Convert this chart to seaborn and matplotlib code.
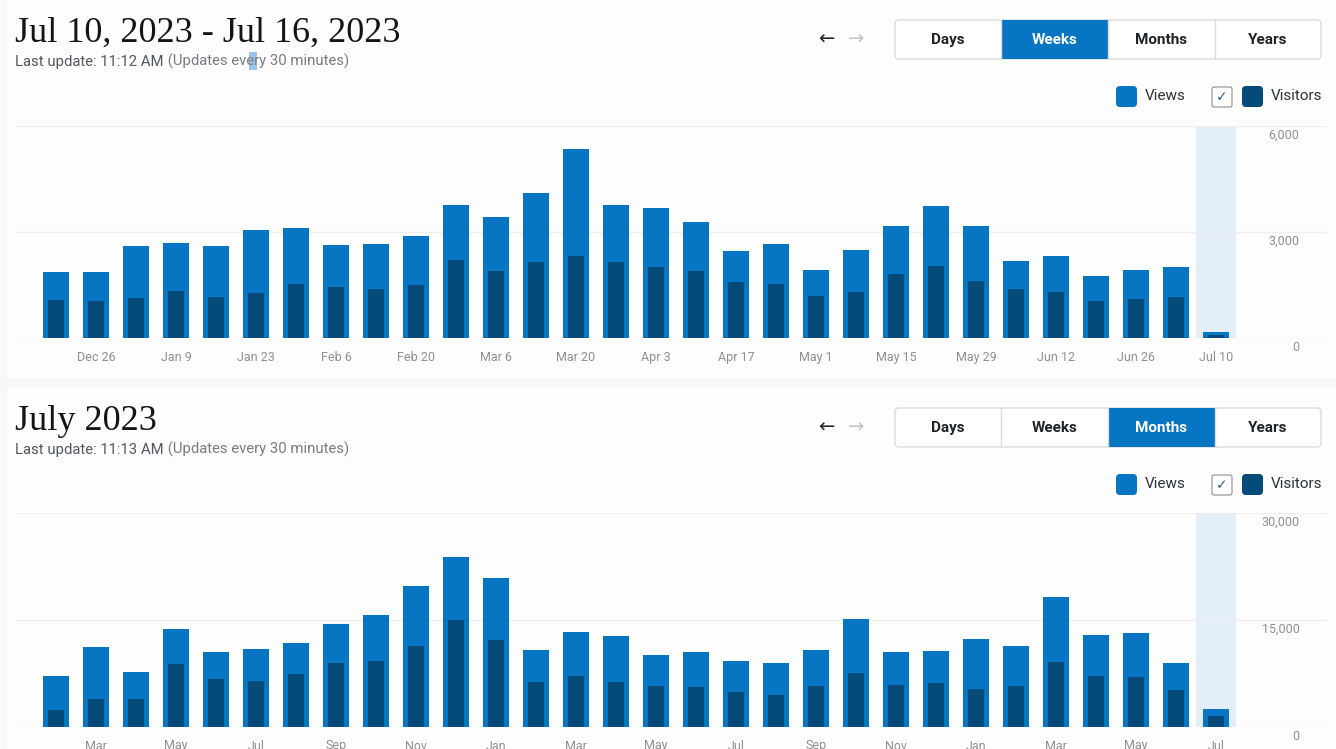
import numpy as np
import pandas as pd
import matplotlib
matplotlib.use("Agg")
import matplotlib.pyplot as plt
from matplotlib.patches import FancyBboxPatch, Rectangle
import seaborn as sns

# weekly stats, Dec 19 2022 -> Jul 10 2023
week_labels = ["Dec 19", "Dec 26", "Jan 2", "Jan 9", "Jan 16", "Jan 23", "Jan 30",
               "Feb 6", "Feb 13", "Feb 20", "Feb 27", "Mar 6", "Mar 13", "Mar 20",
               "Mar 27", "Apr 3", "Apr 10", "Apr 17", "Apr 24", "May 1", "May 8",
               "May 15", "May 22", "May 29", "Jun 5", "Jun 12", "Jun 19", "Jun 26",
               "Jul 3", "Jul 10"]
week_views = [1870, 1880, 2590, 2690, 2590, 3060, 3110, 2640, 2660, 2880,
              3760, 3430, 4100, 5350, 3770, 3670, 3280, 2470, 2670, 1930,
              2500, 3160, 3750, 3160, 2190, 2310, 1760, 1930, 2010, 180]
week_visitors = [1080, 1050, 1140, 1320, 1150, 1270, 1530, 1440, 1390, 1500,
                 2200, 1900, 2140, 2310, 2140, 2000, 1890, 1580, 1520, 1180,
                 1300, 1800, 2050, 1600, 1390, 1310, 1040, 1090, 1150, 90]
week_ticks = ["0", "3,000", "6,000"]
week_tick_vals = [0, 3000, 6000]

# monthly stats, Feb 2021 -> Jul 2023
month_labels = ["Feb", "Mar", "Apr", "May", "Jun", "Jul", "Aug", "Sep", "Oct", "Nov",
                "Dec", "Jan", "Feb", "Mar", "Apr", "May", "Jun", "Jul", "Aug", "Sep",
                "Oct", "Nov", "Dec", "Jan", "Feb", "Mar", "Apr", "May", "Jun", "Jul"]
month_views = [7190, 11210, 7660, 13740, 10460, 10930, 11820, 14440, 15650, 19770,
               23840, 20890, 10800, 13260, 12700, 10090, 10560, 9300, 8920, 10800,
               15140, 10560, 10700, 12340, 11360, 18230, 12840, 13180, 8970, 2520]
month_visitors = [2430, 3920, 3920, 8870, 6730, 6450, 7430, 8970, 9250, 11400,
                  15040, 12140, 6310, 7090, 6310, 5690, 5650, 4950, 4530, 5790,
                  7610, 5930, 6110, 5270, 5790, 9110, 7150, 7010, 5130, 1490]
month_ticks = ["0", "15,000", "30,000"]
month_tick_vals = [0, 15000, 30000]

VIEWS_C = "#0675c4"
VISITORS_C = "#044b7a"
HILITE_C = "#e4eef8"
GRID_C = "#eeeeee"
TICK_C = "#8c8f94"
DARK = "#1d2327"

sns.set_style("white")
plt.rcParams["font.family"] = ["Roboto", "DejaVu Sans"]

W, H = 1336, 749
fig = plt.figure(figsize=(W / 100, H / 100), dpi=100, facecolor="#f8f8f8")

# overlay axes in pixel units for the page furniture
ov = fig.add_axes([0, 0, 1, 1])
ov.set_xlim(0, W)
ov.set_ylim(H, 0)
ov.axis("off")


def draw_header(y0, title, stamp, active):
    ov.add_patch(Rectangle((7, y0), W - 7, 378 if y0 == 0 else H - y0, fc="#fdfdfd", ec="none", zorder=0))
    ov.text(15, y0 + 42, title, family=["Liberation Serif"], fontsize=26,
            color="#101517", va="baseline")
    t1 = ov.text(15, y0 + 66, f"Last update: {stamp}", fontsize=10.7,
                 color="#50575e", va="baseline")
    ov.annotate(" (Updates every 30 minutes)", xy=(1, 0), xycoords=t1,
                va="bottom", ha="left", fontsize=10.7, color="#787c82")

    # prev / next arrows
    ov.text(826, y0 + 40, "\u2190", ha="center", va="center", fontsize=14, color=DARK)
    ov.text(856, y0 + 40, "\u2192", ha="center", va="center", fontsize=14, color="#c3c4c7")

    # period selector
    names = ["Days", "Weeks", "Months", "Years"]
    edges = [895, 1001, 1108, 1215, 1321]
    ov.add_patch(FancyBboxPatch((895, y0 + 20), 426, 39,
                                boxstyle="round,pad=0,rounding_size=4",
                                fc="white", ec="#dcdcde", lw=1, zorder=2))
    for i, name in enumerate(names):
        x0, x1 = edges[i], edges[i + 1]
        on = name == active
        if on:
            ov.add_patch(Rectangle((x0, y0 + 20), x1 - x0, 39, fc=VIEWS_C, ec="none", zorder=3))
        if i > 0:
            ov.plot([x0, x0], [y0 + 20, y0 + 59], color="#dcdcde", lw=1, zorder=3)
        ov.text((x0 + x1) / 2, y0 + 40, name, ha="center", va="center",
                fontsize=11, fontweight="bold", color="white" if on else DARK, zorder=4)

    # legend
    ov.add_patch(FancyBboxPatch((1116, y0 + 86), 21, 21, boxstyle="round,pad=0,rounding_size=4",
                                fc=VIEWS_C, ec="none"))
    ov.text(1145, y0 + 96.5, "Views", va="center", fontsize=11, color="#2c3338")
    ov.add_patch(FancyBboxPatch((1212, y0 + 87), 20, 20, boxstyle="round,pad=0,rounding_size=2",
                                fc="white", ec="#8c8f94", lw=0.8))
    ov.text(1222, y0 + 97.5, "\u2713", ha="center", va="center", family=["DejaVu Sans"],
            fontsize=10, color="#2c5f86")
    ov.add_patch(FancyBboxPatch((1242, y0 + 86), 21, 21, boxstyle="round,pad=0,rounding_size=4",
                                fc=VISITORS_C, ec="none"))
    ov.text(1271, y0 + 96.5, "Visitors", va="center", fontsize=11, color="#2c3338")


def draw_chart(top_px, base_px, views, visitors, labels, tick_vals, tick_text):
    ax = fig.add_axes([15 / W, 1 - base_px / H, 1312 / W, (base_px - top_px) / H])
    ax.patch.set_visible(False)
    n = len(views)
    df = pd.DataFrame({"pos": np.arange(n), "views": views, "visitors": visitors})

    ax.axvspan(n - 1.5, n - 0.5, color=HILITE_C, zorder=0, lw=0)
    for v in tick_vals:
        ax.axhline(v, color=GRID_C, lw=1, zorder=0.5)

    sns.barplot(data=df, x="pos", y="views", color=VIEWS_C, saturation=1,
                width=0.67, errorbar=None, ax=ax, zorder=2, linewidth=0)
    sns.barplot(data=df, x="pos", y="visitors", color=VISITORS_C, saturation=1,
                width=0.38, errorbar=None, ax=ax, zorder=3, linewidth=0)

    ax.set_xlim(-1.025, -1.025 + 1312 / 40)
    ax.set_ylim(0, tick_vals[-1])
    ax.set_xlabel("")
    ax.set_ylabel("")
    sns.despine(ax=ax, left=True, bottom=True)

    ax.set_xticks(range(1, n, 2))
    ax.set_xticklabels(labels[1::2])
    ax.tick_params(axis="x", length=4, width=1, color="#b0b3b6", pad=5,
                   labelsize=9, labelcolor=TICK_C)
    ax.tick_params(axis="y", left=False, labelleft=False)

    for v, s in zip(tick_vals, tick_text):
        ax.annotate(s, xy=(0.979, v), xycoords=("axes fraction", "data"),
                    xytext=(0, -9), textcoords="offset pixels",
                    ha="right", va="center", fontsize=9, color=TICK_C)
    return ax


draw_header(0, "Jul 10, 2023 - Jul 16, 2023", "11:12 AM", "Weeks")
# text-selection blip on "every" in the first header
ov.add_patch(Rectangle((249, 52), 8, 18, fc="#9cc3e8", ec="none", zorder=1))
draw_chart(126, 338, week_views, week_visitors, week_labels, week_tick_vals, week_ticks)

draw_header(388, "July 2023", "11:13 AM", "Months")
draw_chart(513, 727, month_views, month_visitors, month_labels, month_tick_vals, month_ticks)

fig.savefig("out.png", dpi=100, facecolor=fig.get_facecolor())
